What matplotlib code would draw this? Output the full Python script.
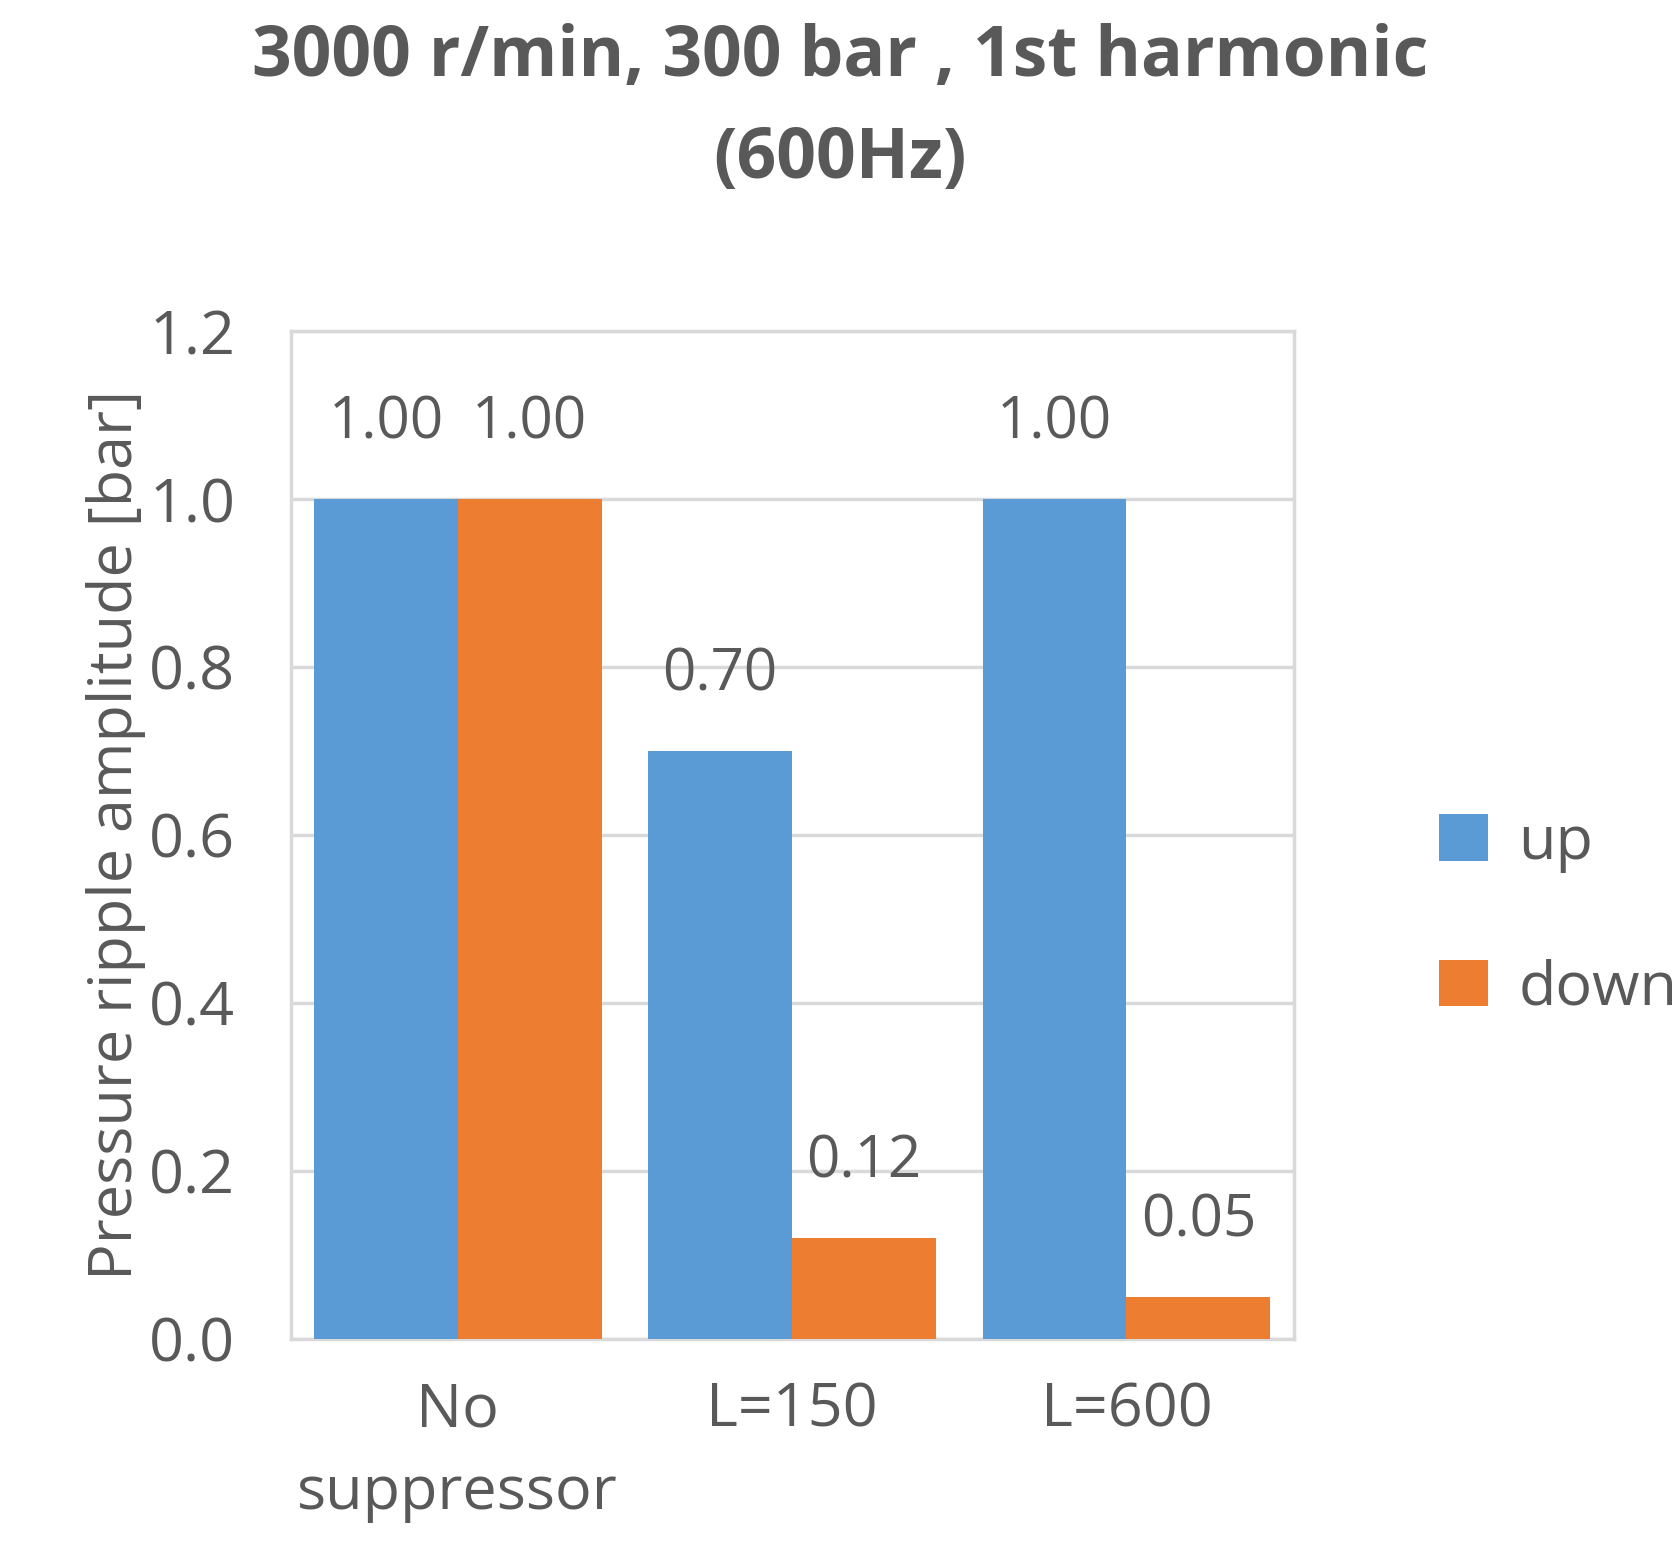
import numpy as np
import matplotlib
matplotlib.use('Agg')
import matplotlib.pyplot as plt

plt.rcParams['font.family'] = ['Open Sans', 'DejaVu Sans']
GRAY = '#595959'

categories = ['No\nsuppressor', 'L=150', 'L=600']
up = [1.00, 0.70, 1.00]
down = [1.00, 0.12, 0.05]

fig = plt.figure(figsize=(16.8, 15.62), dpi=100)
ax = fig.add_axes([0.173, 0.143, 0.597, 0.645])
x = np.arange(len(categories))
w = 0.43
b1 = ax.bar(x - w/2, up, w, color='#5B9BD5', label='up', zorder=3)
b2 = ax.bar(x + w/2, down, w, color='#ED7D31', label='down', zorder=3)
for bars, vals in ((b1, up), (b2, down)):
    for r, v in zip(bars, vals):
        ax.text(r.get_x() + r.get_width()/2, v + 0.055, f'{v:.2f}', ha='center',
                va='bottom', fontsize=42, color=GRAY)
ax.set_xlim(-0.5, 2.5)
ax.set_ylim(0, 1.2)
ax.set_yticks(np.arange(0, 1.21, 0.2))
ax.set_yticklabels([f'{t:.1f}' for t in np.arange(0, 1.21, 0.2)])
ax.set_xticks(x)
ax.set_xticklabels(categories, linespacing=1.5)
ax.tick_params(labelsize=44, colors=GRAY, length=0, pad=40)
ax.tick_params(axis='x', pad=30)
ax.grid(axis='y', color='#D9D9D9', lw=2.5, zorder=0)
for s in ax.spines.values():
    s.set_color('#D9D9D9'); s.set_linewidth(2.5)
ax.set_ylabel('Pressure ripple amplitude [bar]', fontsize=44, color=GRAY, labelpad=2)
fig.suptitle('3000 r/min, 300 bar , 1st harmonic\n(600Hz)', fontsize=50,
             fontweight='bold', color=GRAY, y=0.985, linespacing=1.6)
ax.legend(loc='center left', bbox_to_anchor=(1.09, 0.42), frameon=False,
          fontsize=44, labelcolor=GRAY, handlelength=0.8, handleheight=0.8,
          labelspacing=1.4, handletextpad=0.5)
fig.savefig('out.png')
